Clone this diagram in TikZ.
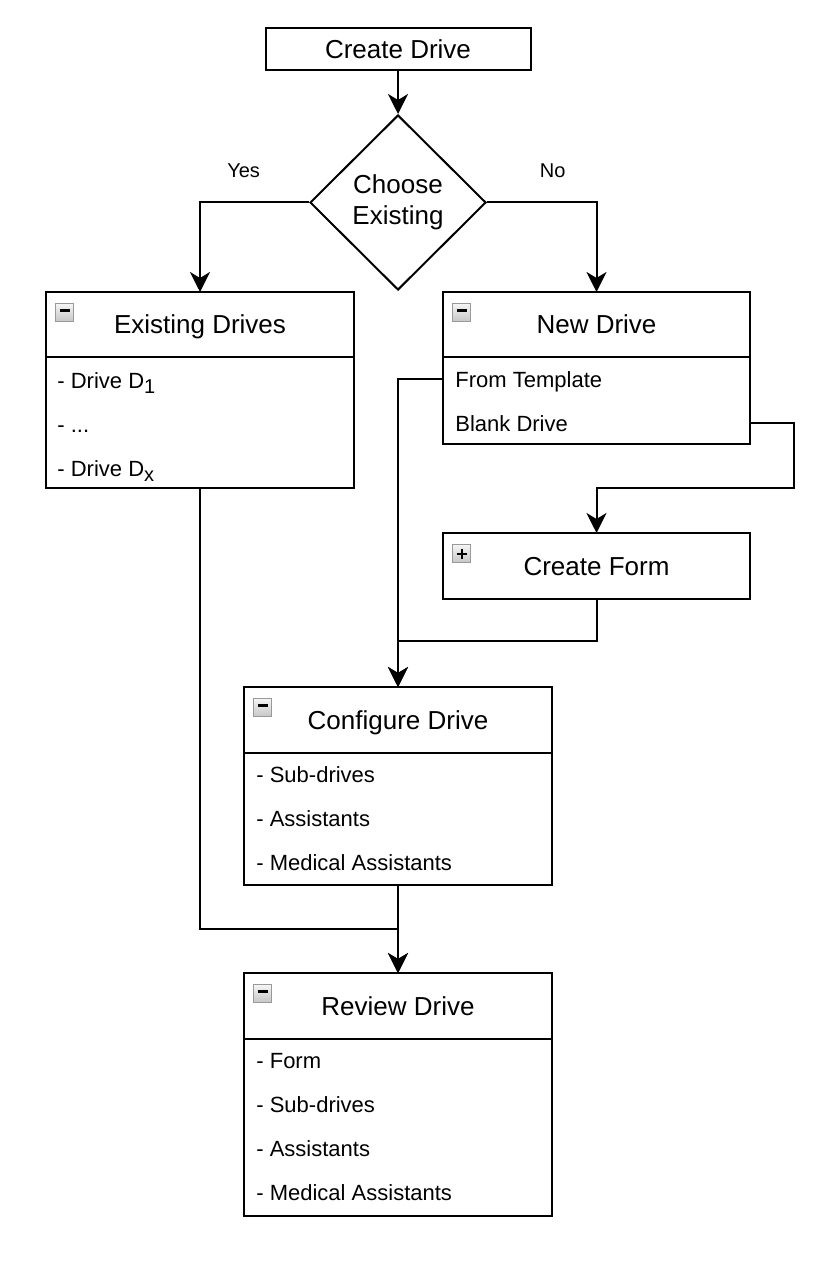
\documentclass[tikz,border=0pt]{standalone}
\usepackage{fontspec}
\setmainfont{Liberation Sans}
\usetikzlibrary{positioning,shapes.geometric,arrows.meta,calc}

\tikzset{
    box/.style={draw, line width=1pt, minimum width=154pt, inner sep=0pt, outer sep=0pt, text height=9.3pt, text depth=0pt, font=\fontsize{13}{15.5}\selectfont},
    head/.style={box, minimum height=32.5pt},
    body/.style={draw, line width=1pt, minimum width=154pt, inner sep=0pt, outer sep=0pt},
    item/.style={anchor=west, inner sep=0pt, text height=8pt, text depth=0pt, font=\fontsize{11}{13}\selectfont},
    answer/.style={font=\fontsize{10}{12}\selectfont},
    flow/.style={line width=1pt, -{Stealth[length=10pt,width=10pt,inset=3pt]}},
    icon/.style={draw=gray!80, line width=0.6pt, top color=gray!8, bottom color=gray!45, minimum size=9pt, inner sep=0pt, anchor=north west},
}

% small fold icons in the header corner
\newcommand{\minusicon}[1]{
    \node[icon] (#1-icon) at ($(#1.north west)+(9,11)$) {};
    \draw[line width=1.3pt] ($(#1-icon.center)+(-5,-2)$) -- ($(#1-icon.center)+(5,-2)$);
}
\newcommand{\plusicon}[1]{
    \node[icon] (#1-icon) at ($(#1.north west)+(9,11)$) {};
    \draw[line width=1.1pt] ($(#1-icon.center)+(-5,0)$) -- ($(#1-icon.center)+(5,0)$);
    \draw[line width=1.1pt] ($(#1-icon.center)+(0,-5)$) -- ($(#1-icon.center)+(0,5)$);
}
\newcommand{\low}[1]{\raisebox{-2.5pt}{\fontsize{10}{12}\selectfont #1}}

\begin{document}
\begin{tikzpicture}[x=0.5pt,y=-0.5pt]
    \useasboundingbox (0,0) rectangle (826,1262);

    \node [box, minimum width=132.5pt, minimum height=21pt] (create) at (398,49) {Create Drive};
    \node [draw, diamond, line width=1pt, minimum width=88pt, minimum height=87.5pt, inner sep=0pt,
           align=center, font=\fontsize{13}{15.5}\selectfont] (choose) at (398,202.5) {Choose\\Existing};

    % existing drives
    \node [head] (exhead) at (200,324.5) {Existing Drives};
    \node [body, minimum height=65.5pt, anchor=north] (exbody) at (exhead.south) {};
    \minusicon{exhead}
    \node [item] (ex1) at (57,380) {- Drive D\low{1}};
    \node [item] (ex2) at (57,424) {- ...};
    \node [item] (ex3) at (57,468) {- Drive D\low{x}};

    % new drive
    \node [head, minimum width=153.5pt] (newhead) at (596.5,324.5) {New Drive};
    \node [body, minimum width=153.5pt, minimum height=43.5pt, anchor=north] (newbody) at (newhead.south) {};
    \minusicon{newhead}
    \node [item] (nd1) at (455,379) {From Template};
    \node [item] (nd2) at (455,423) {Blank Drive};

    \node [box, minimum width=153.5pt, minimum height=33pt] (form) at (596.5,566) {Create Form};
    \plusicon{form}

    % configure drive
    \node [head, minimum height=33pt] (confhead) at (398,720) {Configure Drive};
    \node [body, minimum height=66pt, anchor=north] (confbody) at (confhead.south) {};
    \minusicon{confhead}
    \node [item] (cf1) at (256,774) {- Sub-drives};
    \node [item] (cf2) at (256,818) {- Assistants};
    \node [item] (cf3) at (256,862) {- Medical Assistants};

    % review drive
    \node [head, minimum height=33pt] (revhead) at (398,1006) {Review Drive};
    \node [body, minimum height=88.5pt, anchor=north] (revbody) at (revhead.south) {};
    \minusicon{revhead}
    \node [item] (rv1) at (256,1060) {- Form};
    \node [item] (rv2) at (256,1104) {- Sub-drives};
    \node [item] (rv3) at (256,1148) {- Assistants};
    \node [item] (rv4) at (256,1192) {- Medical Assistants};

    \draw[flow] (create.south) -- (choose.north);
    \draw[flow] (choose.west) -| (exhead.north) node[answer, pos=0.3, above=8.5pt] {Yes};
    \draw[flow] (choose.east) -| (newhead.north) node[answer, pos=0.3, above=8.5pt] {No};
    \draw[flow] (newbody.west |- nd1) -| (confhead.north);
    \draw[flow] (newbody.east |- nd2) -- ++(44,0) -- ++(0,65) -| (form.north);
    \draw[flow] (form.south) -- ++(0,42) -| (confhead.north);
    \draw[flow] (exbody.south) -- ++(0,441) -| (revhead.north);
    \draw[flow] (confbody.south) -- (revhead.north);
\end{tikzpicture}
\end{document}
